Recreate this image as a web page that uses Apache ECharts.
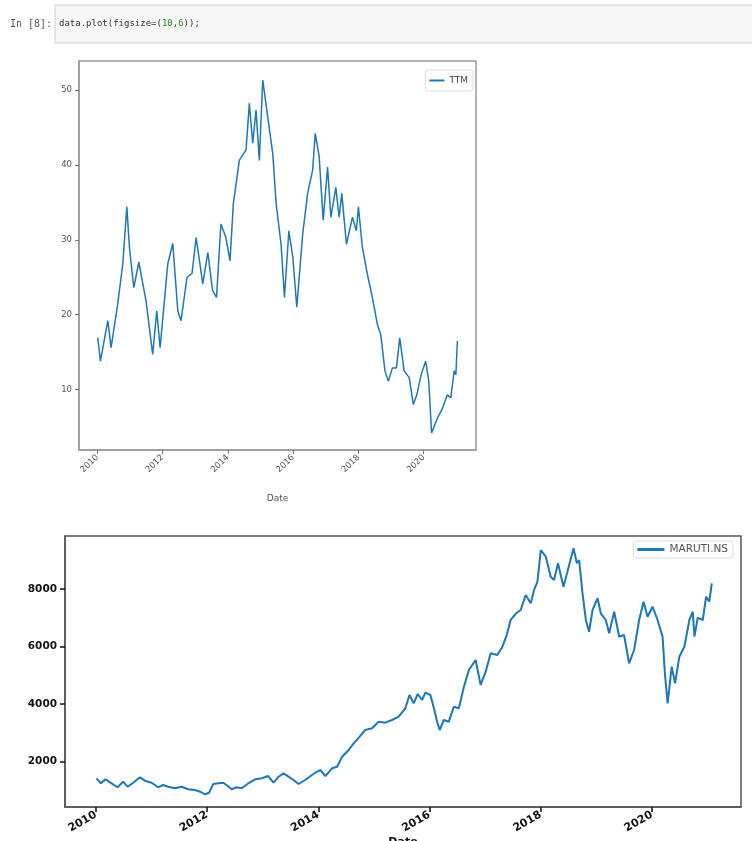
<!DOCTYPE html>
<html>
<head>
<meta charset="utf-8">
<script src="https://cdn.jsdelivr.net/npm/echarts@6/dist/echarts.min.js"></script>
<style>
  html, body { margin: 0; padding: 0; background: #fff; }
  #chart { width: 752px; height: 841px; }
</style>
</head>
<body>
<div id="chart"></div>
<script>
// TTM closing prices (approximate, sampled)
const ttmDates = [
  '2010-01-08','2010-02-07','2010-04-30','2010-06-06','2010-08-19','2010-10-15','2010-11-29','2010-12-28',
  '2011-02-15','2011-04-12','2011-07-02','2011-09-14','2011-10-30','2011-12-06','2012-03-01','2012-04-26',
  '2012-06-21','2012-07-27','2012-10-02','2012-11-27','2013-01-12','2013-03-27','2013-05-23','2013-07-15',
  '2013-08-28','2013-10-16','2013-12-11','2014-01-26','2014-03-04','2014-05-10','2014-07-24','2014-08-30',
  '2014-10-07','2014-11-13','2014-12-20','2015-01-27','2015-03-24','2015-05-19','2015-06-26','2015-08-20',
  '2015-09-27','2015-11-15','2015-12-29','2016-02-12','2016-04-18','2016-06-12','2016-08-07','2016-09-05',
  '2016-10-19','2016-12-03','2017-01-21','2017-02-27','2017-04-23','2017-05-30','2017-06-29','2017-08-20',
  '2017-10-26','2017-12-09','2018-01-01','2018-02-14','2018-04-11','2018-06-06','2018-08-01','2018-09-07',
  '2018-10-25','2018-12-02','2019-01-16','2019-03-02','2019-04-08','2019-05-27','2019-07-23','2019-09-07',
  '2019-10-16','2019-12-04','2020-01-23','2020-02-27','2020-03-29','2020-06-03','2020-07-29','2020-09-21',
  '2020-10-30','2020-12-07','2020-12-26','2021-01-12'
];
const ttmValues = [
  16.9,13.8,19.2,15.6,21.4,26.8,34.4,29.0,
  23.6,27.0,21.8,14.7,20.5,15.6,26.8,29.5,
  20.5,19.2,25.0,25.5,30.3,24.1,28.3,23.2,
  22.3,32.1,30.3,27.2,34.8,40.6,42.0,48.2,
  42.9,47.3,40.6,51.3,46.4,41.5,34.8,29.4,
  22.3,31.2,27.7,21.0,30.8,36.2,39.3,44.2,
  41.1,32.6,39.7,33.0,37.0,33.0,36.2,29.4,
  33.0,31.2,34.4,29.0,25.4,22.3,18.7,17.4,
  12.5,11.1,12.9,12.9,16.9,12.5,11.6,8.0,
  9.3,12.0,13.8,11.1,4.2,6.2,7.5,9.3,
  8.9,12.5,12.0,16.5
];

// MARUTI.NS closing prices (approximate, sampled)
const marutiDates = [
  '2010-01-05','2010-02-03','2010-03-05','2010-04-14','2010-05-23','2010-06-29','2010-07-28','2010-09-03',
  '2010-10-17','2010-11-19','2011-01-02','2011-02-14','2011-03-18','2011-04-21','2011-06-04','2011-07-18',
  '2011-08-30','2011-10-14','2011-11-16','2011-12-19','2012-01-14','2012-02-11','2012-03-15','2012-04-17',
  '2012-05-16','2012-06-11','2012-07-14','2012-08-16','2012-09-28','2012-11-12','2012-12-27','2013-02-04',
  '2013-03-13','2013-04-15','2013-05-17','2013-06-19','2013-07-22','2013-08-24','2013-10-07','2013-11-20',
  '2013-12-12','2014-01-14','2014-02-16','2014-04-01','2014-05-04','2014-06-06','2014-07-19','2014-08-21',
  '2014-09-29','2014-11-05','2014-12-20','2015-02-01','2015-03-17','2015-04-30','2015-06-12','2015-07-26',
  '2015-08-23','2015-09-19','2015-10-16','2015-11-13','2015-12-05','2016-01-07','2016-02-02','2016-02-20',
  '2016-03-08','2016-04-04','2016-05-07','2016-06-09','2016-07-12','2016-08-14','2016-09-16','2016-10-30',
  '2016-12-02','2017-01-04','2017-02-06','2017-03-22','2017-04-24','2017-05-22','2017-06-17','2017-07-23',
  '2017-08-22','2017-09-24','2017-10-27','2017-11-18','2017-12-10','2018-01-01','2018-02-03','2018-03-07',
  '2018-03-29','2018-04-24','2018-05-30','2018-06-25','2018-08-04','2018-08-26','2018-09-10','2018-10-02',
  '2018-10-24','2018-11-14','2018-12-07','2019-01-09','2019-01-30','2019-03-04','2019-03-26','2019-04-28',
  '2019-05-31','2019-07-02','2019-08-04','2019-09-06','2019-10-09','2019-11-07','2019-12-03','2020-01-05',
  '2020-02-07','2020-03-11','2020-03-26','2020-04-13','2020-05-10','2020-06-01','2020-06-29','2020-08-01',
  '2020-09-03','2020-09-25','2020-10-06','2020-10-28','2020-11-30','2020-12-22','2021-01-12','2021-01-28'
];
const marutiValues = [
  1409,1235,1374,1235,1096,1291,1116,1256,
  1444,1326,1256,1096,1176,1116,1061,1116,
  1026,1001,942,852,907,1211,1235,1256,
  1141,1026,1096,1061,1235,1374,1409,1489,
  1256,1465,1583,1465,1350,1211,1350,1524,
  1604,1698,1489,1758,1813,2162,2395,2629,
  2859,3092,3152,3382,3347,3441,3556,3849,
  4312,4023,4347,4138,4392,4312,3789,3382,
  3092,3441,3382,3904,3849,4601,5183,5532,
  4661,5124,5765,5706,5995,6400,6926,7160,
  7275,7797,7508,7972,8261,9365,9132,8435,
  8320,8902,8087,8609,9424,8902,9017,7856,
  6926,6517,7275,7683,7160,6926,6462,7215,
  6344,6403,5417,5880,6926,7564,7041,7390,
  6926,6344,5068,4023,5298,4720,5647,5995,
  6926,7215,6344,7012,6926,7738,7564,8205
];

// Tick positions
const yearTicks = [2010, 2012, 2014, 2016, 2018, 2020];
const ttmYTicks = [10, 20, 30, 40, 50];
const marutiYTicks = [2000, 4000, 6000, 8000];

// Dates are placed on a numeric (millisecond) axis so year ticks can be pinned exactly
const toMs = s => { const p = s.split('-').map(Number); return Date.UTC(p[0], p[1] - 1, p[2]); };
const yearStamps = yearTicks.map(y => Date.UTC(y, 0, 1));
const xMin = Date.UTC(2009, 5, 12);
const xMax = Date.UTC(2021, 7, 8);
const yearLabel = v => String(new Date(v).getUTCFullYear());
const plain = v => String(v);
const blue = '#1f77b4';

function pairs(dates, vals) {
  return dates.map((d, i) => [toMs(d), vals[i]]);
}

const chart = echarts.init(document.getElementById('chart'), null, { renderer: 'canvas' });

chart.setOption({
  backgroundColor: '#ffffff',
  animation: false,
  textStyle: { fontFamily: 'DejaVu Sans' },
  graphic: [
    { type: 'rect', shape: { x: 55, y: 5, width: 705, height: 38 },
      style: { fill: '#f7f7f7', stroke: '#cfcfcf', lineWidth: 1 } },
    { type: 'text', x: 10, y: 24,
      style: { text: 'In [8]:', font: '10px "DejaVu Sans Mono"', fill: '#555', verticalAlign: 'middle' } },
    { type: 'text', x: 59, y: 24,
      style: {
        text: '{a|data.plot(figsize=(}{n|10}{a|,}{n|6}{a|));}',
        verticalAlign: 'middle',
        rich: {
          a: { fontFamily: 'DejaVu Sans Mono', fontSize: 9, fill: '#333' },
          n: { fontFamily: 'DejaVu Sans Mono', fontSize: 9, fill: '#2a8a2a' }
        }
      } }
  ],
  legend: [
    {
      data: ['TTM'], right: 279, top: 70,
      padding: [6, 5, 6, 4], itemWidth: 15, itemHeight: 2, icon: 'rect',
      backgroundColor: '#fff', borderColor: '#dddddd', borderWidth: 1, borderRadius: 3,
      textStyle: { color: '#444', fontSize: 9 }
    },
    {
      data: ['MARUTI.NS'], right: 19, top: 541,
      padding: [3, 5, 3, 4], itemWidth: 27, itemHeight: 3, icon: 'rect', itemGap: 8,
      backgroundColor: '#fff', borderColor: '#dddddd', borderWidth: 1, borderRadius: 3,
      textStyle: { color: '#555', fontSize: 10.5 }
    }
  ],
  grid: [
    { left: 79, top: 61, right: 276, bottom: 391, show: true, outerBoundsMode: 'none',
      borderColor: '#9a9a9a', borderWidth: 1.5, backgroundColor: '#fff' },
    { left: 65, top: 536, right: 11, bottom: 34, show: true, outerBoundsMode: 'none',
      borderColor: '#555', borderWidth: 1.5, backgroundColor: '#fff' }
  ],
  xAxis: [
    {
      type: 'value', gridIndex: 0, min: xMin, max: xMax,
      name: 'Date', nameLocation: 'middle', nameGap: 44,
      nameTextStyle: { color: '#555', fontSize: 9 },
      axisLine: { show: true, lineStyle: { color: '#9a9a9a', width: 1.5 } },
      axisTick: { show: true, customValues: yearStamps, length: 4, lineStyle: { color: '#777' } },
      axisLabel: {
        customValues: yearStamps, rotate: 45, margin: 6,
        color: '#555', fontSize: 8.5, formatter: yearLabel
      },
      splitLine: { show: false }
    },
    {
      type: 'value', gridIndex: 1, min: xMin, max: xMax,
      name: 'Date', nameLocation: 'middle', nameGap: 29,
      nameTextStyle: { color: '#111', fontSize: 11, fontWeight: 'bold' },
      axisLine: { show: true, lineStyle: { color: '#555', width: 1.5 } },
      axisTick: { show: true, customValues: yearStamps, length: 5, lineStyle: { color: '#111', width: 1.5 } },
      axisLabel: {
        customValues: yearStamps, rotate: 30, margin: 7,
        color: '#111', fontSize: 11, fontWeight: 'bold', formatter: yearLabel
      },
      splitLine: { show: false }
    }
  ],
  yAxis: [
    {
      type: 'value', gridIndex: 0, min: 1.94, max: 53.86,
      axisLine: { show: true, lineStyle: { color: '#9a9a9a', width: 1.5 } },
      axisTick: { show: true, customValues: ttmYTicks, length: 4, lineStyle: { color: '#777' } },
      axisLabel: { customValues: ttmYTicks, margin: 7, color: '#555', fontSize: 8.5, formatter: plain },
      splitLine: { show: false }
    },
    {
      type: 'value', gridIndex: 1, min: 409, max: 9853,
      axisLine: { show: true, lineStyle: { color: '#555', width: 1.5 } },
      axisTick: { show: true, customValues: marutiYTicks, length: 5, lineStyle: { color: '#111', width: 1.5 } },
      axisLabel: { customValues: marutiYTicks, margin: 8, color: '#111', fontSize: 10.5, fontWeight: 'bold', formatter: plain },
      splitLine: { show: false }
    }
  ],
  series: [
    {
      name: 'TTM', type: 'line', xAxisIndex: 0, yAxisIndex: 0,
      data: pairs(ttmDates, ttmValues),
      showSymbol: false, symbol: 'none',
      lineStyle: { color: blue, width: 1.5 }, itemStyle: { color: blue }
    },
    {
      name: 'MARUTI.NS', type: 'line', xAxisIndex: 1, yAxisIndex: 1,
      data: pairs(marutiDates, marutiValues),
      showSymbol: false, symbol: 'none',
      lineStyle: { color: blue, width: 2 }, itemStyle: { color: blue }
    }
  ]
});
</script>
</body>
</html>
